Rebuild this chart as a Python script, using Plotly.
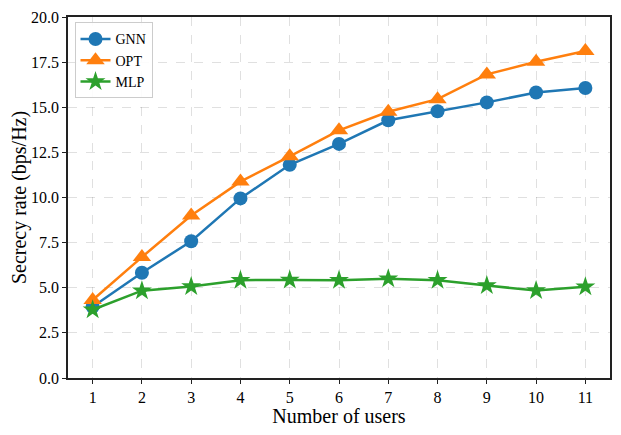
import plotly.graph_objects as go

users = [1, 2, 3, 4, 5, 6, 7, 8, 9, 10, 11]
gnn = [3.95, 5.83, 7.58, 9.95, 11.81, 12.97, 14.28, 14.78, 15.27, 15.82, 16.07]
opt = [4.32, 6.70, 9.00, 10.88, 12.28, 13.72, 14.75, 15.45, 16.82, 17.52, 18.12]
mlp = [3.78, 4.84, 5.07, 5.42, 5.43, 5.42, 5.50, 5.42, 5.12, 4.85, 5.05]
yticks = [0, 2.5, 5, 7.5, 10, 12.5, 15, 17.5, 20]

FONT = "Liberation Serif, Times New Roman, serif"

fig = go.Figure()
fig.add_trace(go.Scatter(x=users, y=gnn, name="GNN", mode="lines+markers",
                         line=dict(color="#1f77b4", width=2.5),
                         marker=dict(symbol="circle", size=14, color="#1f77b4")))
fig.add_trace(go.Scatter(x=users, y=opt, name="OPT", mode="lines+markers",
                         line=dict(color="#ff7f0e", width=2.5),
                         marker=dict(symbol="triangle-up", size=16, color="#ff7f0e")))
fig.add_trace(go.Scatter(x=users, y=mlp, name="MLP", mode="lines+markers",
                         line=dict(color="#2ca02c", width=2.5),
                         marker=dict(symbol="star", size=15, color="#2ca02c")))

axis_common = dict(showline=True, linecolor="#222", linewidth=1.5, mirror=True,
                   ticks="outside", ticklen=4, tickwidth=1.2, tickcolor="#222",
                   showgrid=True, gridcolor="rgba(0,0,0,0.12)", griddash="dash", gridwidth=1,
                   zeroline=False, ticklabeloverflow="allow",
                   tickfont=dict(family=FONT, size=16, color="black"))

fig.update_xaxes(range=[0.5, 11.5], tickvals=users,
                 title=dict(text="Number of users", font=dict(family=FONT, size=20, color="black"), standoff=6),
                 **axis_common)
fig.update_yaxes(range=[0, 20], tickvals=yticks, tickformat=".1f",
                 title=dict(text="Secrecy rate (bps/Hz)", font=dict(family=FONT, size=20, color="black"), standoff=6),
                 **axis_common)

fig.update_layout(
    width=605, height=419,
    margin=dict(l=60, r=1, t=7, b=48),
    plot_bgcolor="white", paper_bgcolor="white",
    font=dict(family=FONT, color="black"),
    legend=dict(x=0.012, y=0.985, xanchor="left", yanchor="top",
                bgcolor="rgba(255,255,255,0.9)", bordercolor="#ccc", borderwidth=1,
                font=dict(family=FONT, size=14, color="black"),
                itemwidth=30, tracegroupgap=0),
    showlegend=True,
)

fig.write_html("out.html")
